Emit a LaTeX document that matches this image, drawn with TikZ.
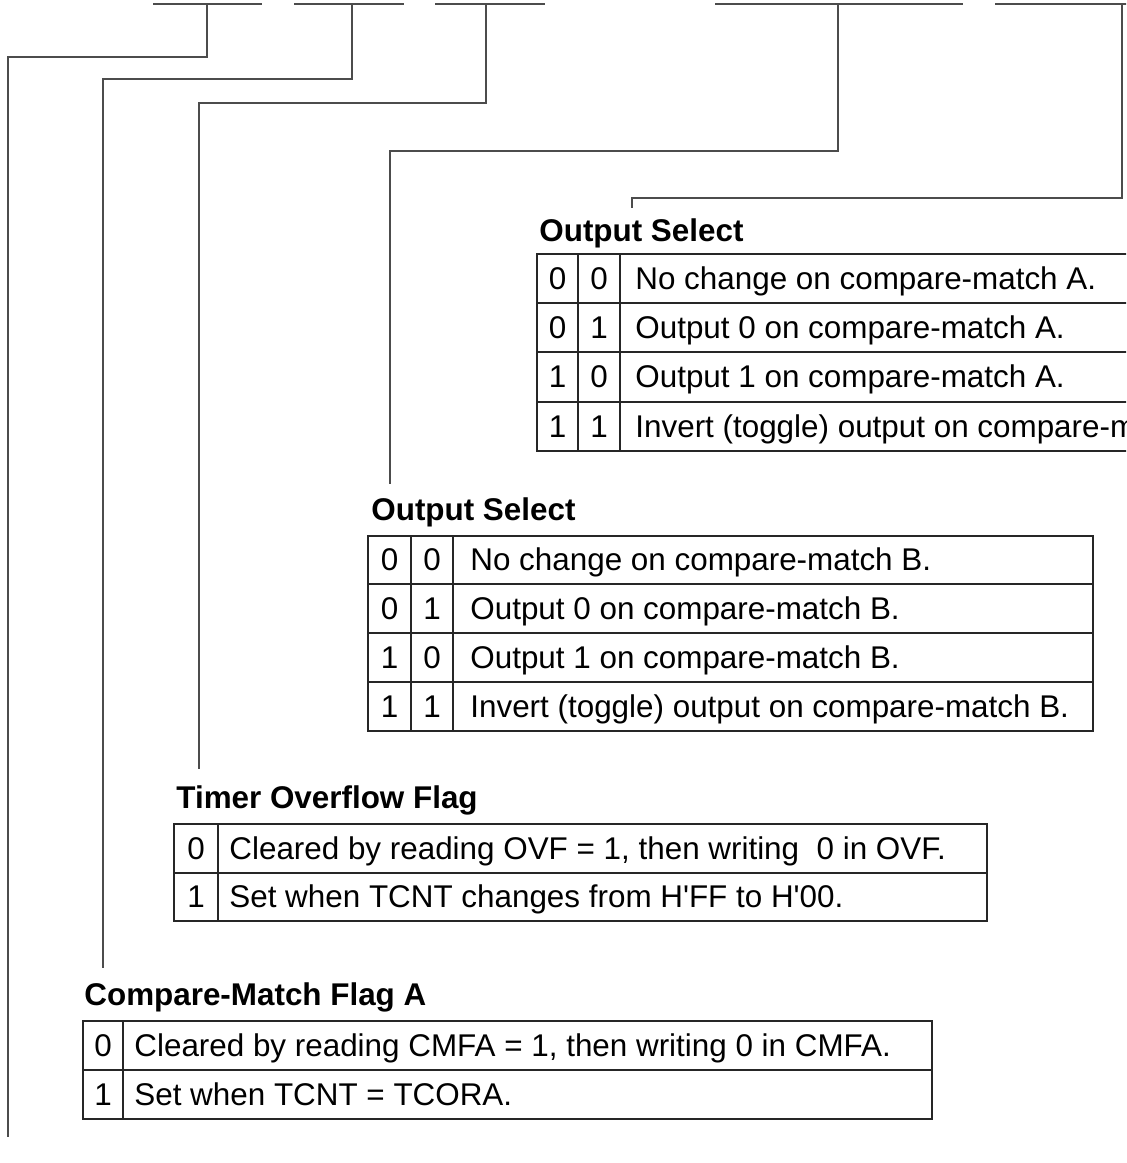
\documentclass[tikz,border=0pt]{standalone}
\usepackage{fontspec}
\setmainfont{Liberation Sans}
\begin{document}
\begin{tikzpicture}[x=0.5pt,y=-0.5pt,
	wire/.style={line width=0.65pt, draw=black!70},
	grid/.style={line width=0.65pt, draw=black!85},
	title/.style={anchor=base west, inner sep=0pt, font=\fontsize{15.7}{18}\selectfont\bfseries},
	cell/.style={anchor=base west, inner sep=0pt, font=\fontsize{15.7}{18}\selectfont},
	bit/.style={anchor=base, inner sep=0pt, font=\fontsize{15.7}{18}\selectfont}]
		\useasboundingbox (0,0) rectangle (1126,1163);
		\clip (0,0) rectangle (1126,1163);

		% bit fields of the register
		\draw[wire] (153,4) -- (262,4);
		\draw[wire] (294,4) -- (404,4);
		\draw[wire] (435,4) -- (545,4);
		\draw[wire] (715,4) -- (963,4);
		\draw[wire] (995,4) -- (1130,4);
		\coordinate (cmfbTap) at (207,4);
		\coordinate (cmfaTap) at (352,4);
		\coordinate (ovfTap) at (486,4);
		\coordinate (osbTap) at (838,4);
		\coordinate (osaTap) at (1122,4);

		% titles
		\node[title] (osaTitle) at (539,241) {Output Select};
		\node[title] (osbTitle) at (371,520) {Output Select};
		\node[title] (ovfTitle) at (176,808) {Timer Overflow Flag};
		\node[title] (cmfaTitle) at (84,1005) {Compare-Match Flag A};

		% leader ends
		\coordinate (osaEnd) at (632,208);
		\coordinate (osbEnd) at (390,484);
		\coordinate (ovfEnd) at (199,769);
		\coordinate (cmfaEnd) at (103,968);
		\coordinate (cmfbEnd) at (8,1137);

		% leaders
		\draw[wire] (osaTap) -- ++(0,194) -| (osaEnd);
		\draw[wire] (osbTap) -- ++(0,147) -| (osbEnd);
		\draw[wire] (ovfTap) -- ++(0,99) -| (ovfEnd);
		\draw[wire] (cmfaTap) -- ++(0,75) -| (cmfaEnd);
		\draw[wire] (cmfbTap) -- ++(0,53) -| (cmfbEnd);

		% output select A
		\draw[grid] (537,254) rectangle (1200,451);
		\draw[grid] (537,303) -- (1200,303);
		\draw[grid] (537,352) -- (1200,352);
		\draw[grid] (537,402) -- (1200,402);
		\draw[grid] (578,254) -- (578,451);
		\draw[grid] (620,254) -- (620,451);
		\node[bit] (osaA1) at (557.5,289) {0};
		\node[bit] (osaB1) at (599,289) {0};
		\node[cell] (osaT1) at (635,289) {No change on compare-match A.};
		\node[bit] (osaA2) at (557.5,338) {0};
		\node[bit] (osaB2) at (599,338) {1};
		\node[cell] (osaT2) at (635,338) {Output 0 on compare-match A.};
		\node[bit] (osaA3) at (557.5,387.5) {1};
		\node[bit] (osaB3) at (599,387.5) {0};
		\node[cell] (osaT3) at (635,387.5) {Output 1 on compare-match A.};
		\node[bit] (osaA4) at (557.5,437) {1};
		\node[bit] (osaB4) at (599,437) {1};
		\node[cell] (osaT4) at (635,437) {Invert (toggle) output on compare-match A.};

		% output select B
		\draw[grid] (368,536) rectangle (1093,731);
		\draw[grid] (368,584) -- (1093,584);
		\draw[grid] (368,633) -- (1093,633);
		\draw[grid] (368,682) -- (1093,682);
		\draw[grid] (411,536) -- (411,731);
		\draw[grid] (453,536) -- (453,731);
		\node[bit] (osbA1) at (389.5,570.5) {0};
		\node[bit] (osbB1) at (432,570.5) {0};
		\node[cell] (osbT1) at (470,570.5) {No change on compare-match B.};
		\node[bit] (osbA2) at (389.5,619) {0};
		\node[bit] (osbB2) at (432,619) {1};
		\node[cell] (osbT2) at (470,619) {Output 0 on compare-match B.};
		\node[bit] (osbA3) at (389.5,668) {1};
		\node[bit] (osbB3) at (432,668) {0};
		\node[cell] (osbT3) at (470,668) {Output 1 on compare-match B.};
		\node[bit] (osbA4) at (389.5,717) {1};
		\node[bit] (osbB4) at (432,717) {1};
		\node[cell] (osbT4) at (470,717) {Invert (toggle) output on compare-match B.};

		% timer overflow flag
		\draw[grid] (174,824) rectangle (987,921);
		\draw[grid] (174,873) -- (987,873);
		\draw[grid] (218,824) -- (218,921);
		\node[bit] (ovfA1) at (196,859) {0};
		\node[cell] (ovfT1) at (229,859) {Cleared by reading OVF = 1, then writing\ \ 0 in OVF.};
		\node[bit] (ovfA2) at (196,907.5) {1};
		\node[cell] (ovfT2) at (229,907.5) {Set when TCNT changes from H\textquotesingle FF to H\textquotesingle 00.};

		% compare-match flag A
		\draw[grid] (83,1021) rectangle (932,1119);
		\draw[grid] (83,1070) -- (932,1070);
		\draw[grid] (123,1021) -- (123,1119);
		\node[bit] (cmfaA1) at (103,1056) {0};
		\node[cell] (cmfaT1) at (134,1056) {Cleared by reading CMFA = 1, then writing 0 in CMFA.};
		\node[bit] (cmfaA2) at (103,1105) {1};
		\node[cell] (cmfaT2) at (134,1105) {Set when TCNT = TCORA.};
	\end{tikzpicture}
\end{document}
